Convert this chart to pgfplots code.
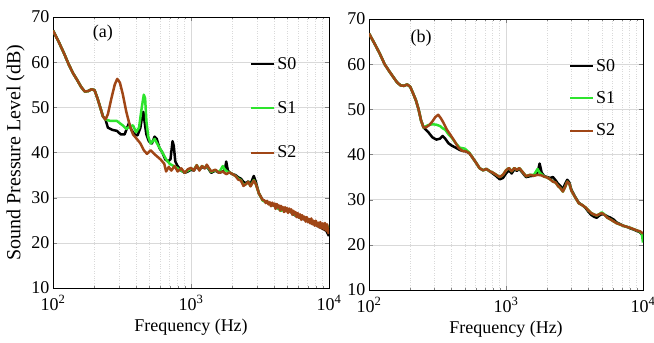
\documentclass[border=0pt]{standalone}
\usepackage{pgfplots}
\pgfplotsset{compat=1.18}
\usepackage{fontspec}
\setmainfont{Liberation Serif}
\definecolor{sgreen}{RGB}{45,228,45}
\definecolor{sbrown}{RGB}{160,70,22}
\begin{document}
\begin{tikzpicture}
\path[use as bounding box] (0pt,0pt) rectangle (654pt,343pt);
% ---------------- (a) ----------------
\begin{axis}[at={(53pt,55pt)}, anchor=south west, width=276pt, height=271pt, scale only axis,
  xmode=log, xmin=100, xmax=10000, ymin=10, ymax=70,
  xtick={100,1000,10000},
  xticklabels={10\textsuperscript{2},10\textsuperscript{3},10\textsuperscript{4}},
  ytick={10,20,30,40,50,60,70},
  /pgf/number format/assume math mode=true,
  tick label style={font=\fontsize{18}{20}\selectfont},
  xticklabel style={yshift=-4pt},
  xlabel style={font=\fontsize{18}{20}\selectfont, yshift=-2pt},
  ylabel style={font=\fontsize{20}{22}\selectfont},
  grid=both,
  major grid style={gray!30, line width=0.5pt},
  minor grid style={gray!30, dotted, line width=0.5pt},
  tick align=inside, major tick length=4pt, minor tick length=2pt,
  axis line style={black, line width=0.6pt},
  legend image code/.code={\draw[#1, line width=1.8pt] (0pt,0pt) -- (23pt,0pt);},
  legend style={draw=none, fill=none, font=\fontsize{18}{20}\selectfont, legend cell align=left, anchor=north west, inner sep=0pt, at={(0.715,0.86)}, row sep=27pt},
  xlabel={Frequency (Hz)}, ylabel={Sound Pressure Level (dB)}]
\addplot[black, line width=2.5pt, line join=round] coordinates {
(100,67) (110,64.5) (120,62) (130,59.5) (140,57.5) (150,56) (160,54.5) (170,53.5) (180,53.6) (190,54) (200,53.8) (210,52) (220,50) (230,48) (240,47.3)
(250,45.5) (270,45) (290,44.8) (310,44) (330,44) (345,45.5) (355,46.5) (370,45) (390,44) (410,43.8) (430,45.5) (445,48.5) (452,49) (460,47) (475,44)
(495,42.5) (520,42) (545,43.5) (565,43) (590,41) (620,40) (650,38.5) (680,38) (710,38.5) (735,42.5) (750,41.5) (770,38) (800,37) (850,36) (900,35.5)
(950,35.8) (1000,36.2) (1050,36) (1100,37) (1150,36.2) (1200,36.8) (1260,36.5) (1300,37) (1400,35.5) (1500,36) (1600,35.5) (1700,35.8) (1760,36.2) (1800,38) (1850,36)
(1900,35.6) (2000,35.2) (2100,35) (2200,34.5) (2300,34.2) (2400,33.5) (2500,33.2) (2600,33.6) (2700,33) (2850,34.8) (2950,33.5) (3100,31) (3300,29.5) (3500,29) (3700,28.7)
(3900,28.4) (4100,28) (4300,27.6) (4500,27.2) (4700,27.4) (4900,27.1) (5100,27.2) (5300,26.8) (5500,26.4) (5800,25.9) (6100,25.6) (6400,25.3) (6700,25.2) (7000,24.8)
(7300,24.6) (7600,24.3) (8000,24) (8400,23.6) (8800,23.3) (9200,23) (9600,22.6) (10000,21.5)
};
\addlegendentry{S0}
\addplot[sgreen, line width=2.5pt, line join=round] coordinates {
(100,67) (110,64.5) (120,62) (130,59.5) (140,57.5) (150,56) (160,54.5) (170,53.5) (180,53.6) (190,54) (200,53.8) (210,52) (220,50) (230,48) (240,47.3)
(260,47) (290,47) (320,46) (340,45.2) (360,45.8) (380,46) (400,44.5) (420,45.5) (440,50) (455,52.8) (465,52) (475,47) (490,43.5) (510,42) (545,43)
(580,41.5) (620,40) (660,38.5) (700,37.5) (750,37) (800,36.5) (850,36) (900,35.6) (950,36) (1000,36.4) (1050,36.2) (1100,37.2) (1150,36.2) (1200,37)
(1260,36.6) (1300,37.1) (1400,35.7) (1500,36.1) (1600,35.6) (1700,37) (1760,36.2) (1850,35.7) (1900,35.6) (2000,35.2) (2100,34.8) (2200,34.2) (2300,33.9)
(2400,32.8) (2500,33) (2600,33.5) (2700,32.6) (2850,33.9) (2950,33) (3100,31) (3300,29.4) (3500,29) (3700,28.6) (3900,28.5) (4100,27.9) (4300,27.6)
(4500,27.1) (4700,27.5) (4900,27.2) (5100,27.3) (5300,26.9) (5500,26.5) (5800,26) (6100,25.7) (6400,25.4) (6700,25.4) (7000,25) (7300,24.8) (7600,24.5)
(8000,24.2) (8400,24) (8800,23.7) (9200,23.6) (9600,23.4) (10000,23.6)
};
\addlegendentry{S1}
\addplot[sbrown, line width=2.5pt, line join=round] coordinates {
(100,67) (110,64.5) (120,62) (130,59.5) (140,57.5) (150,56) (160,54.5) (170,53.5) (180,53.6) (190,54) (200,53.8) (210,52) (220,50) (230,48) (240,47.3)
(250,48.5) (265,52) (280,55) (292,56.3) (305,55.5) (320,53) (340,49) (360,46) (380,44) (405,43) (430,42) (455,40.5) (480,39.7) (510,40.5) (550,39.5)
(600,38.5) (640,37.5) (660,35.8) (690,36.8) (720,36) (760,37) (800,35.8) (850,36.5) (900,35.5) (950,36.3) (1000,36.6) (1050,36) (1100,37.2) (1150,36)
(1200,37) (1260,36.5) (1300,37.3) (1400,35.8) (1500,36.2) (1600,35.5) (1700,35.8) (1800,35.2) (1900,35.6) (2000,35.2) (2100,34.8) (2200,34) (2300,33.8)
(2400,32.6) (2500,33) (2600,33.5) (2700,32.5) (2850,33.8) (2950,33) (3100,31) (3300,29.5)
(3400,29.4) (3480,28.8) (3560,29.3) (3650,28.5) (3720,29.0) (3800,28.1) (3880,28.9) (3960,28.2)
(4040,28.7) (4100,27.5) (4190,28.6) (4260,27.8) (4330,28.3) (4420,27.1) (4490,28.2) (4560,27.4) (4640,27.9) (4720,26.8)
(4800,27.9) (4880,27.0) (4960,27.7) (5050,26.6) (5150,27.6) (5240,26.9) (5330,27.4) (5420,26.2) (5520,27.1) (5620,26.3)
(5720,26.8) (5830,25.7) (5940,26.6) (6050,25.6) (6170,26.3) (6290,25.1) (6400,26.1) (6520,25.2) (6640,25.8) (6770,24.7)
(6900,25.7) (7030,24.6) (7160,25.3) (7300,24.3) (7440,25.4) (7580,24.1) (7720,24.9) (7870,23.8) (8020,24.9) (8170,23.7)
(8330,24.5) (8490,23.4) (8650,24.6) (8820,23.2) (8990,24.3) (9160,23.0) (9340,24.4) (9520,22.7) (9700,24.1) (9850,22.4) (10000,22.0)
};
\addlegendentry{S2}
\node[font=\fontsize{18}{20}\selectfont] at (axis cs:230,66.5) {(a)};
\end{axis}
% ---------------- (b) ----------------
\begin{axis}[at={(369pt,53pt)}, anchor=south west, width=274pt, height=271pt, scale only axis,
  xmode=log, xmin=100, xmax=10000, ymin=10, ymax=70,
  xtick={100,1000,10000},
  xticklabels={10\textsuperscript{2},10\textsuperscript{3},10\textsuperscript{4}},
  ytick={10,20,30,40,50,60,70},
  /pgf/number format/assume math mode=true,
  tick label style={font=\fontsize{18}{20}\selectfont},
  xticklabel style={yshift=-4pt},
  xlabel style={font=\fontsize{18}{20}\selectfont, yshift=-2pt},
  grid=both,
  major grid style={gray!30, line width=0.5pt},
  minor grid style={gray!30, dotted, line width=0.5pt},
  tick align=inside, major tick length=4pt, minor tick length=2pt,
  axis line style={black, line width=0.6pt},
  legend image code/.code={\draw[#1, line width=1.8pt] (0pt,0pt) -- (23pt,0pt);},
  legend style={draw=none, fill=none, font=\fontsize{18}{20}\selectfont, legend cell align=left, anchor=north west, inner sep=0pt, at={(0.73,0.86)}, row sep=15pt},
  xlabel={Frequency (Hz)}]
\addplot[black, line width=2.5pt, line join=round] coordinates {
(100,66.8) (110,64.5) (120,62.3) (130,60) (140,58.5) (150,57.2) (160,56) (170,55.3) (180,55.2) (190,55.5) (200,55) (210,53.5) (220,52) (230,50) (240,47.5) (250,46)
(270,45) (290,43.8) (310,43.3) (330,43.5) (345,44.1) (360,43.5) (380,42.5) (400,42) (430,41.5) (460,41) (480,40.8) (510,40.7) (540,40.3) (570,39.3)
(610,38) (640,37) (680,36.5) (720,36.8) (760,36.3) (800,35.8) (850,35.2) (900,34.5) (950,34.8) (1000,35.8) (1050,36.5) (1100,35.8) (1150,36.7) (1200,36.4)
(1250,36.8) (1300,36.2) (1400,35) (1500,35.2) (1600,35.3) (1700,36) (1760,38) (1820,36) (1900,35.2) (2000,35) (2100,34.8) (2200,35) (2300,34.3)
(2400,33.5) (2500,33) (2600,32.3) (2700,33.5) (2800,34.4) (2900,33.8) (3000,32.2) (3200,30.6) (3400,29.3) (3600,28.8) (3800,28.2) (4000,27.3)
(4200,26.6) (4400,26.2) (4600,26) (4800,26.5) (5000,26.8) (5200,26.7) (5500,26.3) (5800,26) (6100,25.6) (6400,25) (6800,24.6) (7200,24.2)
(7600,24) (8000,23.7) (8500,23.4) (9000,23.1) (9500,22.8) (10000,22)
};
\addlegendentry{S0}
\addplot[sgreen, line width=2.5pt, line join=round] coordinates {
(100,66.8) (110,64.5) (120,62.3) (130,60) (140,58.5) (150,57.2) (160,56) (170,55.3) (180,55.2) (190,55.5) (200,55) (210,53.5) (220,52) (230,50) (240,47.5) (250,46)
(270,46.5) (290,46.7) (310,46.6) (330,46.3) (345,45.8) (360,45.5) (380,44.5) (400,43.8) (430,42.5) (460,41.5) (500,41.3) (540,40.4) (570,39.3)
(610,38) (640,37) (680,36.5) (720,36.8) (760,36.3) (800,36) (850,35.5) (900,35) (950,35.5) (1000,36.5) (1050,37) (1100,36.3) (1150,37) (1200,36.6)
(1250,37) (1300,36.4) (1400,35.2) (1500,35.5) (1600,35.5) (1700,36.8) (1760,36) (1900,35.1) (2000,34.9) (2100,34.5) (2200,34) (2300,33.8)
(2400,33) (2500,32.5) (2600,31.8) (2700,32.8) (2800,34) (2900,33.5) (3000,32) (3200,30.5) (3400,29.2) (3600,28.8) (3800,28.3) (4000,27.6)
(4200,27) (4400,26.7) (4600,26.5) (4800,26.8) (5000,27.2) (5200,26.8) (5500,26) (5800,25.6) (6100,25.2) (6400,24.8) (6800,24.5) (7200,24.2)
(7600,24) (8000,23.8) (8500,23.5) (9000,23.2) (9500,22.9) (9800,22.5) (10000,20.5)
};
\addlegendentry{S1}
\addplot[sbrown, line width=2.5pt, line join=round] coordinates {
(100,66.8) (110,64.5) (120,62.3) (130,60) (140,58.5) (150,57.2) (160,56) (170,55.3) (180,55.2) (190,55.5) (200,55) (210,53.5) (220,52) (230,50) (240,47.5) (250,46)
(260,46) (275,46.5) (290,47.3) (305,48.3) (320,48.8) (335,48) (350,47) (370,45.5) (390,44.5) (420,43) (450,41.5) (480,40.8) (510,40.7) (540,40.3) (570,39.3)
(610,38) (640,37) (680,36.5) (720,36.8) (760,36.3) (800,36) (850,35.5) (900,35) (950,35.5) (1000,36.5) (1050,37) (1100,36.3) (1150,37) (1200,36.6)
(1250,37) (1300,36.4) (1400,35.2) (1500,35.5) (1600,35.3) (1700,35.5) (1800,35.4) (1900,35.1) (2000,34.9) (2100,34.5) (2200,34) (2300,33.8)
(2400,33) (2500,32.5) (2600,31.8) (2700,32.8) (2800,34) (2900,33.5) (3000,32) (3200,30.5) (3400,29.2) (3600,28.8) (3800,28.3) (4000,27.6)
(4200,27) (4400,26.7) (4600,26.5) (4800,26.8) (5000,27) (5200,26.7) (5500,26) (5800,25.6) (6100,25.2) (6400,24.8) (6800,24.5) (7200,24.2)
(7600,24) (8000,23.8) (8500,23.5) (9000,23.2) (9500,23) (10000,22.5)
};
\addlegendentry{S2}
\node[font=\fontsize{18}{20}\selectfont] at (axis cs:240,65.8) {(b)};
\end{axis}
\end{tikzpicture}
\end{document}
